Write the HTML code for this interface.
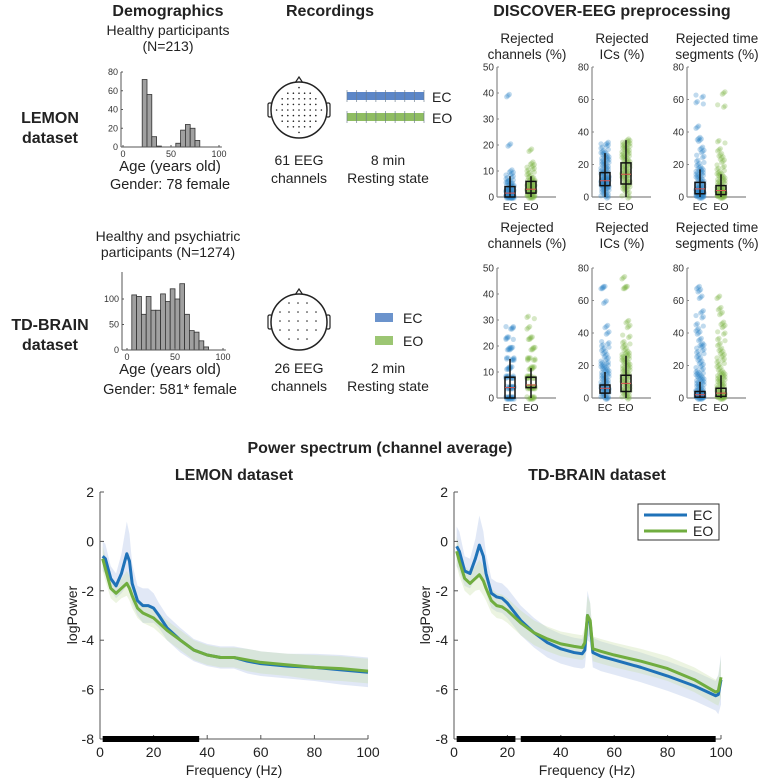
<!DOCTYPE html>
<html><head><meta charset="utf-8"><style>
html,body{margin:0;padding:0;background:#fff}
svg{display:block;font-family:"Liberation Sans",sans-serif}
</style></head><body>
<svg id="fig" width="760" height="781" viewBox="0 0 760 781">
<g id="static" fill="#222">
<text x="168" y="16" font-size="16" font-weight="bold" text-anchor="middle">Demographics</text>
<text x="330" y="16" font-size="16" font-weight="bold" text-anchor="middle">Recordings</text>
<text x="612" y="16" font-size="16" font-weight="bold" text-anchor="middle">DISCOVER-EEG preprocessing</text>
<text x="168" y="35" font-size="14" text-anchor="middle">Healthy participants</text>
<text x="168" y="51" font-size="14" text-anchor="middle">(N=213)</text>
<text x="50" y="123" font-size="16" font-weight="bold" text-anchor="middle">LEMON</text>
<text x="50" y="143" font-size="16" font-weight="bold" text-anchor="middle">dataset</text>
<text x="170" y="171" font-size="15" text-anchor="middle">Age (years old)</text>
<text x="170" y="189" font-size="14.5" text-anchor="middle">Gender: 78 female</text>
<text x="299" y="165" font-size="14" text-anchor="middle">61 EEG</text>
<text x="299" y="183" font-size="14" text-anchor="middle">channels</text>
<text x="388" y="165" font-size="14" text-anchor="middle">8 min</text>
<text x="388" y="183" font-size="14" text-anchor="middle">Resting state</text>
<text x="168" y="241" font-size="14" text-anchor="middle">Healthy and psychiatric</text>
<text x="168" y="257" font-size="14" text-anchor="middle">participants (N=1274)</text>
<text x="50" y="330" font-size="16" font-weight="bold" text-anchor="middle">TD-BRAIN</text>
<text x="50" y="350" font-size="16" font-weight="bold" text-anchor="middle">dataset</text>
<text x="170" y="374" font-size="15" text-anchor="middle">Age (years old)</text>
<text x="170" y="394" font-size="14.5" text-anchor="middle">Gender: 581* female</text>
<text x="299" y="373" font-size="14" text-anchor="middle">26 EEG</text>
<text x="299" y="391" font-size="14" text-anchor="middle">channels</text>
<text x="388" y="373" font-size="14" text-anchor="middle">2 min</text>
<text x="388" y="391" font-size="14" text-anchor="middle">Resting state</text>
<text x="380" y="453" font-size="16" font-weight="bold" text-anchor="middle">Power spectrum (channel average)</text>
<text x="234" y="480" font-size="16" font-weight="bold" text-anchor="middle">LEMON dataset</text>
<text x="597" y="480" font-size="16" font-weight="bold" text-anchor="middle">TD-BRAIN dataset</text>
<text transform="translate(77,615) rotate(-90)" font-size="14" text-anchor="middle">logPower</text>
<text transform="translate(430,615) rotate(-90)" font-size="14" text-anchor="middle">logPower</text>
<text x="234" y="775" font-size="14" text-anchor="middle">Frequency (Hz)</text>
<text x="587" y="775" font-size="14" text-anchor="middle">Frequency (Hz)</text>
</g>
<g id="dyn"></g>
</svg>
<script>
// ---------- histogram data ----------
const lemonAgeBins=[20,25,30,35,55,60,65,70,75];
const lemonAgeCounts=[72,56,11,1,4,18,24,20,7];
const tdAgeBins=[5,10,15,20,25,30,35,40,45,50,55,60,65,70,75,80];
const tdAgeCounts=[108,105,70,105,78,78,110,95,120,100,130,70,38,35,18,6];
const histTicksX=[0,50,100];
const lemonHistTicksY=[0,20,40,60,80];
const tdHistTicksY=[0,50,100];
// ---------- strip data ----------
const stripCats=["EC","EO"];
const L_ch_EC=[0,0,0,0,0,0,0,0,1,1,1,1,2,2,2,2,3,3,3,4,4,5,5,6,6,7,8,9,10,20,39];
const L_ch_EO=[0,0,0,0,1,1,2,2,2,3,3,3,3,4,4,4,5,5,5,6,6,7,7,8,9,10,11,12,13,18];
const L_ic_EC=[0,1,2,3,4,5,6,6,7,7,8,8,9,9,10,10,10,11,11,12,12,13,14,15,15,16,17,18,19,20,21,22,23,24,25,26,27,28,30,32,33];
const L_ic_EO=[0,2,4,5,6,7,8,9,10,11,12,13,14,14,15,16,17,18,19,20,21,22,23,24,25,26,27,28,29,30,31,32,33,34,35];
const L_seg_EC=[0,0,0,1,1,1,2,2,2,3,3,3,4,4,5,5,6,6,7,8,9,10,11,12,13,14,15,16,17,18,20,22,25,28,30,35,36,43,58,62];
const L_seg_EO=[0,0,0,1,1,1,2,2,3,3,3,4,4,5,5,6,7,8,9,10,11,12,13,14,15,17,19,22,24,26,29,34,56,64];
const T_ch_EC=[0,0,0,0,0,0,4,4,4,4,4,8,8,8,8,11.5,11.5,11.5,15,15,15,19,19,19,23,23,27,27];
const T_ch_EO=[0,0,0,0,4,4,4,4,4,4,8,8,8,8,11.5,11.5,11.5,15,15,15,19,19,23,23,27,31];
const T_ic_EC=[0,0,1,2,3,4,5,5,6,6,7,7,8,9,10,11,12,13,14,15,16,17,18,19,20,21,22,24,26,28,30,32,34,40,44,59,68,68];
const T_ic_EO=[0,1,2,3,4,5,6,7,8,9,10,11,12,13,14,15,16,17,18,19,20,21,22,23,24,25,26,27,28,30,32,34,38,44,47,68,68,74];
const T_seg_EC=[0,0,0,0,1,1,1,2,2,2,3,3,4,4,5,6,7,8,9,10,11,12,13,14,15,16,18,20,22,24,26,28,30,32,33,36,40,42,45,50,53,62,66,68];
const T_seg_EO=[0,0,0,1,1,1,2,2,3,3,4,5,6,7,8,9,10,11,12,13,14,15,16,18,20,22,24,26,28,30,33,36,40,44,46,52,55,62];
// box stats [whiskLo,q1,med,q3,whiskHi]
const L_ch_box=[[0,0,1.5,4,8],[0,1.5,3,6,8]];
const L_ic_box=[[0,7,10,15,27],[0,8,14,21,35]];
const L_seg_box=[[0,2,5,9,17],[0,1.5,4,7,14]];
const T_ch_box=[[0,0,4,8,15],[0,4,5,8,11.5]];
const T_ic_box=[[0,3,6,8,16],[0,4,9,14,26]];
const T_seg_box=[[0,0.5,2,4,10],[0,1,3,6,14]];
const chTicks=[0,10,20,30,40,50];
const pctTicks=[0,20,40,60,80];
// ---------- spectrum data ----------
const L_freq=[1,2,4,6,8,10,11,12,14,16,18,20,22,25,30,35,40,45,50,55,60,70,80,90,100];
const L_EC=[-0.6,-0.7,-1.5,-1.8,-1.3,-0.5,-0.8,-1.7,-2.4,-2.6,-2.6,-2.7,-3.0,-3.5,-4.0,-4.4,-4.6,-4.7,-4.7,-4.85,-4.95,-5.05,-5.1,-5.2,-5.3];
const L_EO=[-0.7,-1.1,-1.9,-2.1,-1.9,-1.7,-1.9,-2.2,-2.7,-2.9,-3.0,-3.1,-3.3,-3.6,-4.0,-4.4,-4.6,-4.7,-4.7,-4.8,-4.9,-5.0,-5.1,-5.15,-5.25];
const L_EC_sd=[0.6,0.6,0.5,0.5,0.8,1.3,1.1,0.8,0.6,0.7,0.7,0.6,0.5,0.5,0.5,0.45,0.45,0.45,0.45,0.5,0.5,0.5,0.55,0.6,0.6];
const L_EO_sd=[0.5,0.5,0.4,0.4,0.4,0.5,0.5,0.5,0.4,0.4,0.4,0.4,0.4,0.4,0.4,0.4,0.4,0.4,0.4,0.45,0.45,0.45,0.5,0.5,0.5];
const T_freq=[1,2,4,6,8,9.5,11,12,14,16,18,20,25,30,35,40,45,48,49,50,51,52,55,60,70,80,90,98,99,100];
const T_EC=[-0.2,-0.4,-1.2,-1.3,-0.7,-0.15,-0.6,-1.3,-2.1,-2.25,-2.3,-2.5,-3.2,-3.7,-4.1,-4.35,-4.5,-4.55,-4.4,-3.0,-3.3,-4.5,-4.65,-4.8,-5.1,-5.45,-5.85,-6.25,-6.2,-5.6];
const T_EO=[-0.4,-0.8,-1.5,-1.7,-1.5,-1.35,-1.6,-1.9,-2.4,-2.6,-2.65,-2.8,-3.3,-3.7,-3.95,-4.15,-4.25,-4.3,-4.1,-3.0,-3.2,-4.35,-4.45,-4.6,-4.85,-5.15,-5.6,-6.1,-6.05,-5.5];
const T_EC_sd=[0.8,0.8,0.6,0.6,0.8,1.2,1.0,0.8,0.6,0.6,0.6,0.6,0.6,0.6,0.6,0.6,0.6,0.6,0.7,1.0,0.8,0.6,0.6,0.6,0.6,0.6,0.6,0.6,0.8,1.0];
const T_EO_sd=[0.6,0.6,0.5,0.5,0.5,0.6,0.6,0.5,0.5,0.5,0.5,0.5,0.5,0.5,0.5,0.5,0.5,0.5,0.6,0.8,0.7,0.5,0.5,0.5,0.5,0.5,0.5,0.5,0.6,0.8];
const L_sig=[[1,37]];
const T_sig=[[1,23],[25,98]];
const specTicksX=[0,20,40,60,80,100];
const specTicksY=[-8,-6,-4,-2,0,2];

const NS="http://www.w3.org/2000/svg";
const root=document.getElementById('dyn');
function el(tag,attrs,parent){const e=document.createElementNS(NS,tag);for(const k in attrs)e.setAttribute(k,attrs[k]);(parent||root).appendChild(e);return e;}
function lin(d0,d1,r0,r1){return v=>r0+(v-d0)*(r1-r0)/(d1-d0);}
const AX="#555";

// ---------- histograms ----------
function hist(name,bins,counts,x0,x1,y0,y1,ymax,yticks,xl){
  const g=el('g',{});
  
  
  const X=lin(0,100,x0,x1),Y=lin(0,ymax,y0,y1);
  bins.forEach((b,i)=>{const r=el('rect',{x:X(b),y:Y(counts[i]),width:X(b+5)-X(b),height:y0-Y(counts[i]),fill:'#a0a0a0',stroke:'#333','stroke-width':0.8},g);
    
    });
  el('line',{x1:xl,y1:y0,x2:X(103),y2:y0,stroke:AX},g);
  el('line',{x1:xl,y1:y0,x2:xl,y2:y1,stroke:AX},g);
  histTicksX.forEach(t=>{el('line',{x1:X(t),y1:y0,x2:X(t),y2:y0-2,stroke:AX},g);
    const tx=el('text',{x:X(t),y:y0+10,'font-size':9,'text-anchor':'middle',fill:'#333'},g);tx.textContent=t;});
  yticks.forEach(t=>{el('line',{x1:xl,y1:Y(t),x2:xl+2,y2:Y(t),stroke:AX},g);
    const tx=el('text',{x:xl-3,y:Y(t)+3,'font-size':9,'text-anchor':'end',fill:'#333'},g);tx.textContent=t;});
}
hist('lemon-age-histogram',lemonAgeBins,lemonAgeCounts,123,219,147,72,80,lemonHistTicksY,121);
hist('td-age-histogram',tdAgeBins,tdAgeCounts,127,223,350,299,100,tdHistTicksY,122);
el('line',{x1:122,y1:350,x2:122,y2:272,stroke:AX});

// ---------- heads ----------
function head(name,cx,cy,r,step){
  const g=el('g',{});
  
  
  el('path',{d:`M${cx-4} ${cy-r+1} L${cx} ${cy-r-5} L${cx+4} ${cy-r+1}`,fill:'none',stroke:'#222','stroke-width':1.2},g);
  el('rect',{x:cx-r-3,y:cy-7,width:4,height:14,rx:1.5,fill:'#fff',stroke:'#222','stroke-width':1.2},g);
  el('rect',{x:cx+r-1,y:cy-7,width:4,height:14,rx:1.5,fill:'#fff',stroke:'#222','stroke-width':1.2},g);
  el('circle',{cx:cx,cy:cy,r:r,fill:'#fff',stroke:'#222','stroke-width':1.5},g);
  for(let dy=-r+step;dy<r;dy+=step)for(let dx=-r+step;dx<r;dx+=step){
    if(dx*dx+dy*dy<(r-5)*(r-5)) el('circle',{cx:cx+dx,cy:cy+dy,r:0.8,fill:'#222'},g);}
}
head('lemon-head-montage',299,110,28,5.6);
head('td-head-montage',299,322,28,9);

function recBar(name,y,color){
  const g=el('g',{});
  
  
  el('rect',{x:347,y:y,width:77,height:8,fill:color},g);
  for(let i=0;i<=8;i++){el('line',{x1:347+i*77/8,y1:y-2,x2:347+i*77/8,y2:y+10,stroke:'#6a7a8a','stroke-width':0.8,opacity:0.8},g);}
}
recBar('lemon-ec-recording',92,'#5b86c8');
recBar('lemon-eo-recording',113,'#8fbd62');
let t=el('text',{x:432,y:102,'font-size':14,fill:'#222'});t.textContent='EC';
t=el('text',{x:432,y:123,'font-size':14,fill:'#222'});t.textContent='EO';
const ts=el('rect',{x:375,y:313,width:18,height:9,fill:'#6b93cc'});


const ts2=el('rect',{x:375,y:336,width:18,height:9,fill:'#9cc673'});


t=el('text',{x:403,y:323,'font-size':14,fill:'#222'});t.textContent='EC';
t=el('text',{x:403,y:346,'font-size':14,fill:'#222'});t.textContent='EO';

// ---------- strip plots ----------
function strip(name,title,ax,ytop,ybot,ymax,ticks,dEC,dEO,box,tshift){
  const g=el('g',{});
  
  
  const Y=lin(0,ymax,ybot,ytop);
  const xs=[ax+13,ax+34];
  title.forEach((s,i)=>{const tx=el('text',{x:ax+30,y:ytop-24-tshift+i*16,'font-size':13.5,'text-anchor':'middle',fill:'#222'},g);tx.textContent=s;});
  el('line',{x1:ax,y1:ybot,x2:ax+59,y2:ybot,stroke:'#888','stroke-width':1.2},g);
  el('line',{x1:ax,y1:ybot,x2:ax,y2:ytop,stroke:'#888','stroke-width':1.2},g);
  ticks.forEach(tv=>{el('line',{x1:ax,y1:Y(tv),x2:ax+2,y2:Y(tv),stroke:'#888'},g);
    const tx=el('text',{x:ax-3,y:Y(tv)+3.5,'font-size':10,'text-anchor':'end',fill:'#333'},g);tx.textContent=tv;});
  [dEC,dEO].forEach((d,k)=>{
    const col=k?'#7cb342':'#2f86c8';
    d.forEach((v,i)=>{
      for(let q=0;q<3;q++){
        const j=((((i*37+q*11)%13)/12)-0.5)*8;
        const c=el('circle',{cx:xs[k]+j,cy:Y(v)+(q-1)*1.2,r:2.6,fill:col,opacity:0.3},g);
        
        
      }});
    const b=box[k];
    el('line',{x1:xs[k],y1:Y(b[0]),x2:xs[k],y2:Y(b[4]),stroke:'#111','stroke-width':1.5},g);
    const r=el('rect',{x:xs[k]-5,y:Y(b[3]),width:10,height:Math.max(1,Y(b[1])-Y(b[3])),fill:'none',stroke:'#111','stroke-width':1.5},g);
    
    
    el('line',{x1:xs[k]-5,y1:Y(b[2]),x2:xs[k]+5,y2:Y(b[2]),stroke:'#d9534f','stroke-width':1},g);
    const tx=el('text',{x:xs[k],y:ybot+13,'font-size':10.5,'text-anchor':'middle',fill:'#222'},g);tx.textContent=stripCats[k];
  });
}
strip('lemon-rejected-channels',['Rejected','channels (%)'],497,67,197,50,chTicks,L_ch_EC,L_ch_EO,L_ch_box,0);
strip('lemon-rejected-ics',['Rejected','ICs (%)'],592,67,197,80,pctTicks,L_ic_EC,L_ic_EO,L_ic_box,0);
strip('lemon-rejected-segments',['Rejected time','segments (%)'],687,67,197,80,pctTicks,L_seg_EC,L_seg_EO,L_seg_box,0);
strip('td-rejected-channels',['Rejected','channels (%)'],497,268,398,50,chTicks,T_ch_EC,T_ch_EO,T_ch_box,12);
strip('td-rejected-ics',['Rejected','ICs (%)'],592,268,398,80,pctTicks,T_ic_EC,T_ic_EO,T_ic_box,12);
strip('td-rejected-segments',['Rejected time','segments (%)'],687,268,398,80,pctTicks,T_seg_EC,T_seg_EO,T_seg_box,12);

// ---------- spectra ----------
function spectrum(name,x0,x1,freq,ec,eo,ecsd,eosd,sig){
  const g=el('g',{});
  
  
  const X=lin(0,100,x0,x1),Y=lin(-8,2,739,492);
  function band(m,sd,col,nm){
    let d='M'+freq.map((f,i)=>X(f)+' '+Y(m[i]+sd[i])).join(' L');
    d+=' L'+freq.map((f,i)=>X(f)+' '+Y(m[i]-sd[i])).reverse().join(' L')+'Z';
    const p=el('path',{d:d,fill:col,opacity:0.35},g);
    
    
  }
  band(ec,ecsd,'#a9bde6','ec-band');
  band(eo,eosd,'#c9dfa8','eo-band');
  function line(m,col,nm){
    const p=el('path',{d:'M'+freq.map((f,i)=>X(f)+' '+Y(m[i])).join(' L'),fill:'none',stroke:col,'stroke-width':3,'stroke-linejoin':'round'},g);
    
    
  }
  line(ec,'#1f72b8','ec-line');
  line(eo,'#70ad3f','eo-line');
  el('line',{x1:x0,y1:739,x2:x1,y2:739,stroke:AX},g);
  el('line',{x1:x0,y1:739,x2:x0,y2:492,stroke:AX},g);
  specTicksX.forEach(tv=>{el('line',{x1:X(tv),y1:739,x2:X(tv),y2:735,stroke:AX},g);
    const tx=el('text',{x:X(tv),y:757,'font-size':14,'text-anchor':'middle',fill:'#222'},g);tx.textContent=tv;});
  specTicksY.forEach(tv=>{el('line',{x1:x0,y1:Y(tv),x2:x0+4,y2:Y(tv),stroke:AX},g);
    const tx=el('text',{x:x0-6,y:Y(tv)+5,'font-size':14,'text-anchor':'end',fill:'#222'},g);tx.textContent=tv;});
  sig.forEach(s=>{const r=el('rect',{x:X(s[0]),y:736,width:X(s[1])-X(s[0]),height:6,fill:'#000'},g);
    
    });
}
spectrum('lemon-spectrum',100,368,L_freq,L_EC,L_EO,L_EC_sd,L_EO_sd,L_sig);
spectrum('td-spectrum',454,721,T_freq,T_EC,T_EO,T_EC_sd,T_EO_sd,T_sig);

const lg=el('g',{});


el('rect',{x:638,y:504,width:81,height:36,fill:'#fff',stroke:'#333','stroke-width':1},lg);
el('line',{x1:644,y1:515,x2:687,y2:515,stroke:'#1f72b8','stroke-width':3},lg);
el('line',{x1:644,y1:531,x2:687,y2:531,stroke:'#70ad3f','stroke-width':3},lg);
t=el('text',{x:693,y:520,'font-size':14,fill:'#222'},lg);t.textContent='EC';
t=el('text',{x:693,y:536,'font-size':14,fill:'#222'},lg);t.textContent='EO';
</script>
</body></html>
